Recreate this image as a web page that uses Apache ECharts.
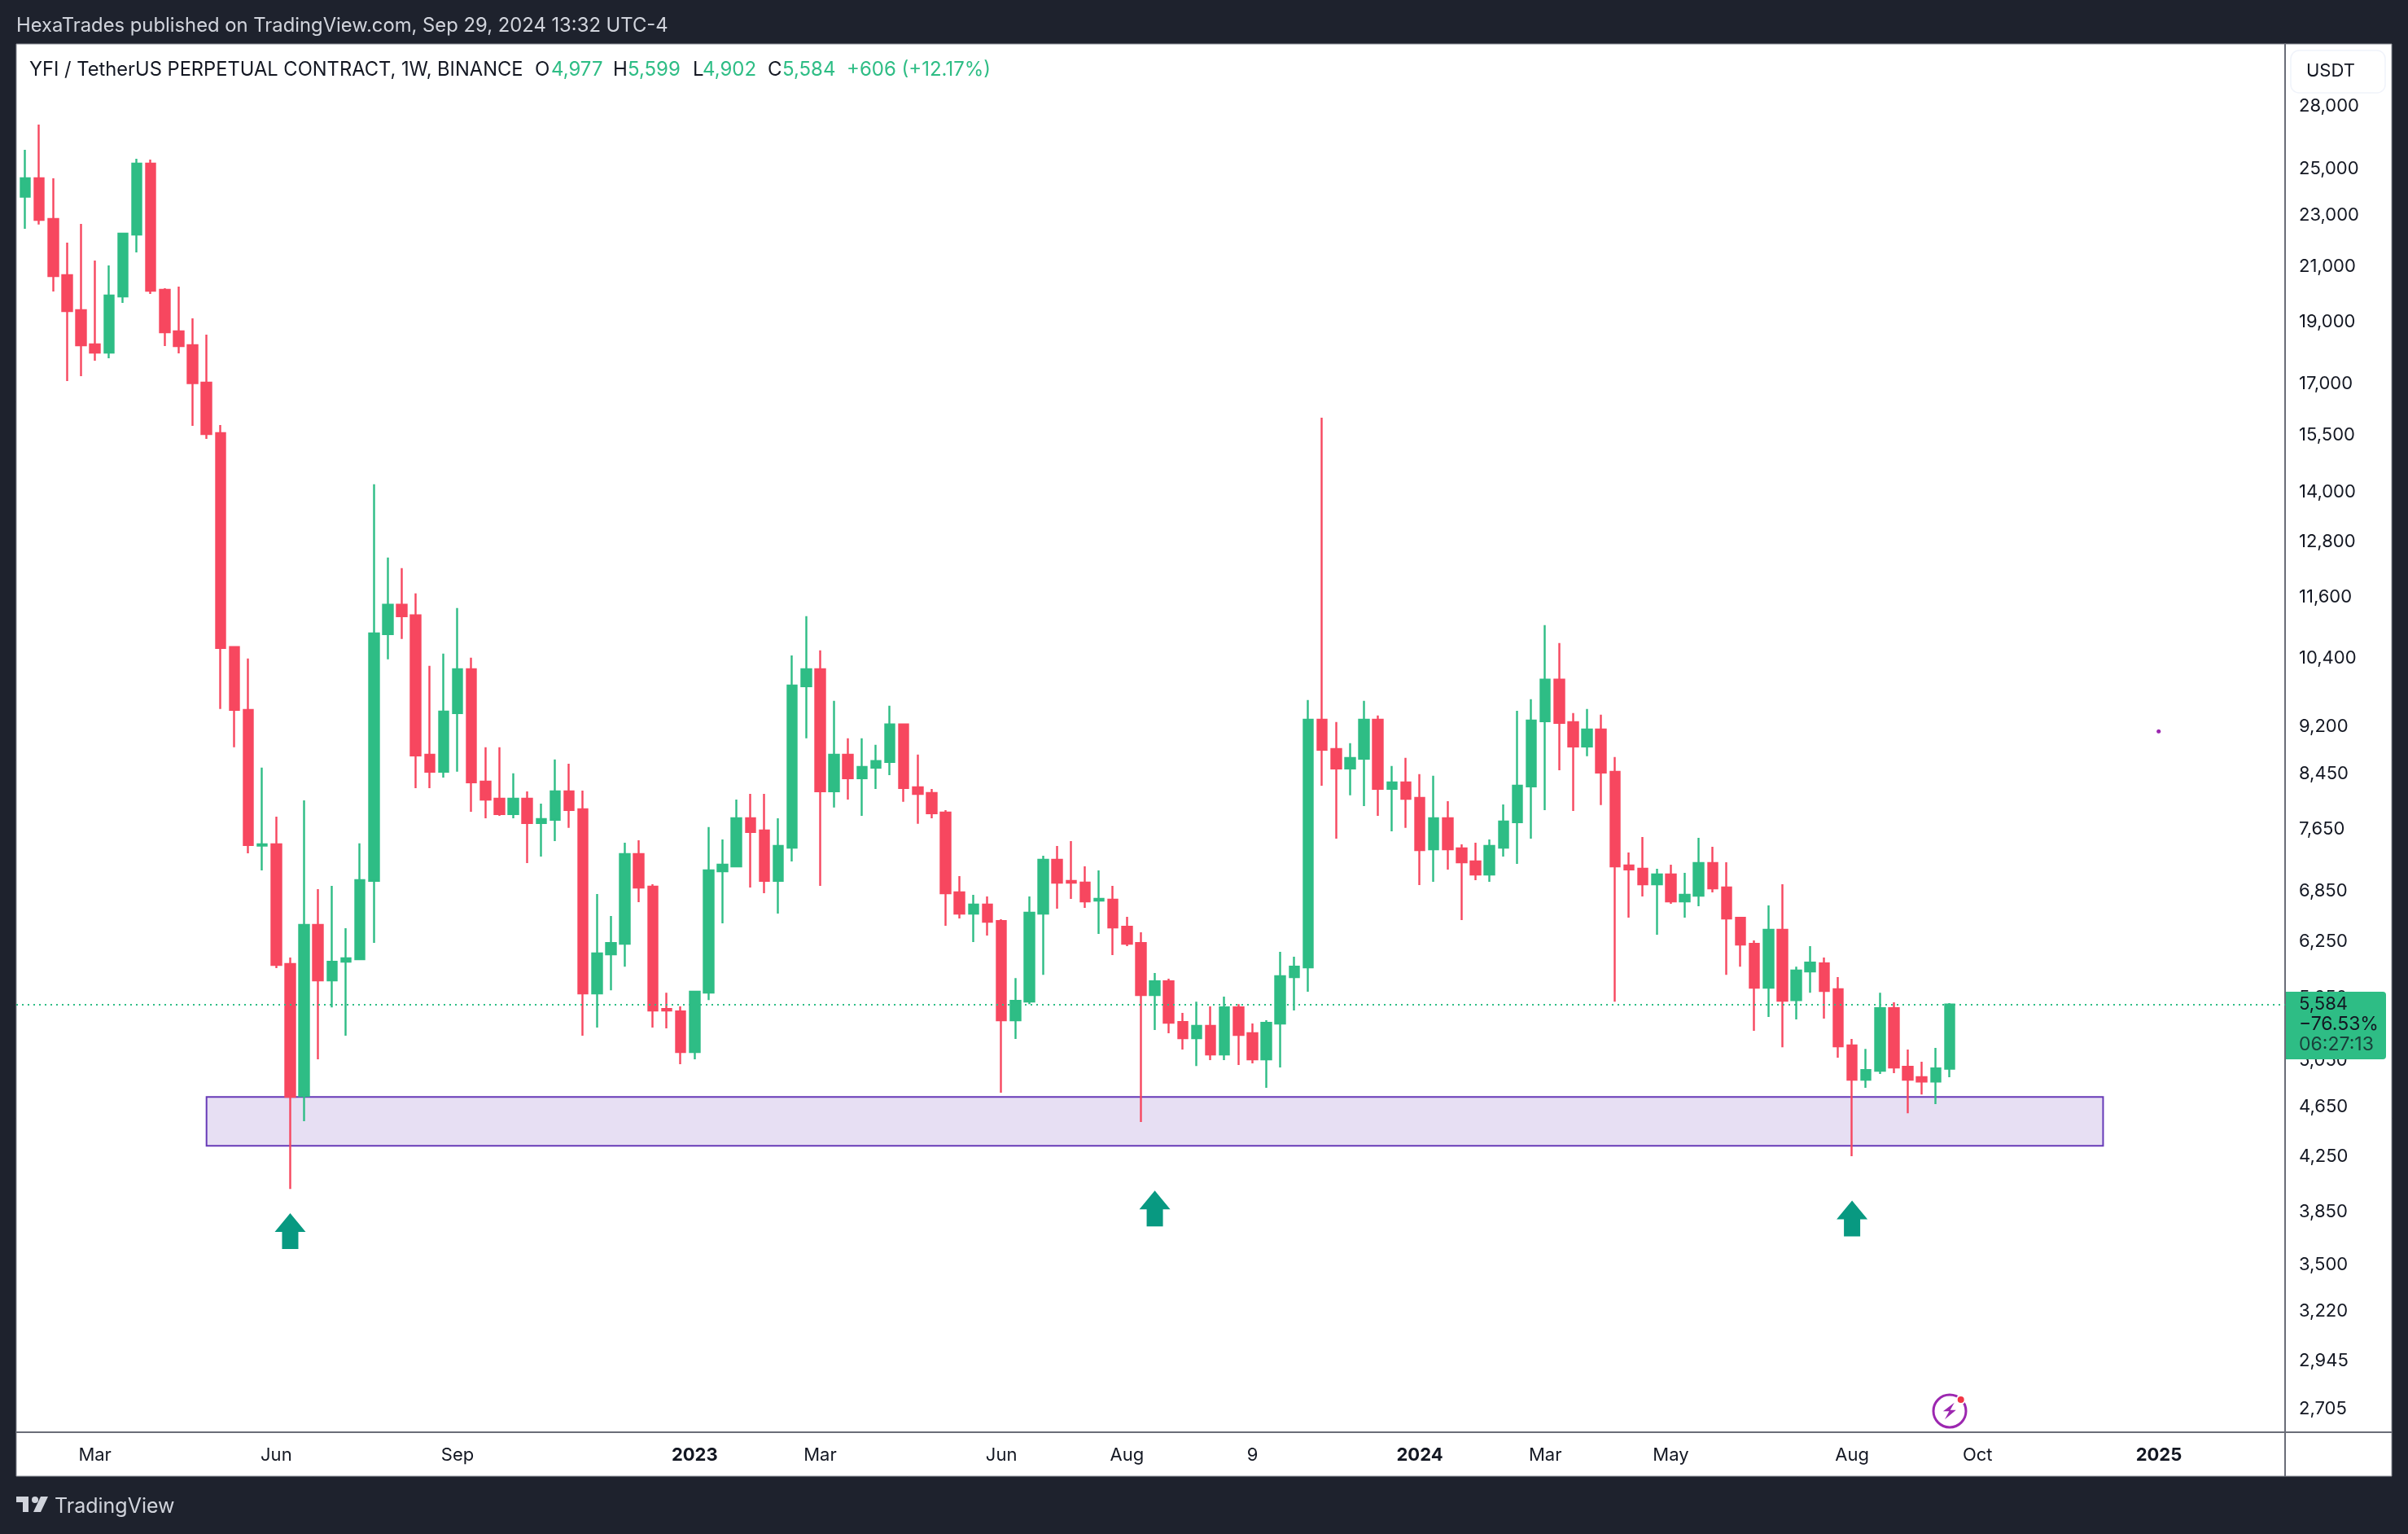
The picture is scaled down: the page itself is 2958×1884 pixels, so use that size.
<!DOCTYPE html>
<html>
<head>
<meta charset="utf-8">
<style>html,body{margin:0;padding:0;background:#1e222d}#c{width:2958px;height:1884px}</style>
<script src="https://cdn.jsdelivr.net/npm/echarts@6/dist/echarts.min.js"></script>
</head>
<body>
<div id="c"></div>
<script>
const firstWeek = '2022-01-31';
const opens = [23787,24586,22854,20662,19404,18249,17985,19891,22228,25240,20125,18680,18222,17038,15563,10603,9474,7428,7445,6005,4740,6442,5832,6031,6058,6971,10853,11440,11225,8743,8479,9419,10192,8331,8079,7858,8079,7733,7778,8186,7928,5697,6111,6228,7315,6899,5541,5517,5128,5705,7094,7156,7800,7632,6971,7401,9885,10192,8186,8743,8380,8541,8628,9229,8246,8162,7881,6829,6575,6681,6488,5429,5614,6575,7240,6971,6950,6730,6740,6422,6237,5680,5823,5413,5258,5374,5106,5557,5304,5062,5398,5866,5969,9310,8833,8528,8680,9310,8222,8319,8091,7379,7800,7390,7219,7052,7401,7744,8258,9283,10001,9269,8872,9148,8479,7167,7125,6929,7052,6720,6789,7198,6889,6526,6228,5756,6385,5630,5926,6013,5739,5189,4880,4959,5549,4995,4902,4865,4977];
const closes = [24586,22820,20632,19376,18222,17985,19920,22260,25240,20095,18654,18196,17026,15540,10587,9474,7434,7445,5996,4733,6442,5832,6031,6067,6981,10869,11440,11208,8730,8479,9447,10192,8319,8067,7858,8079,7733,7789,8186,7916,5697,6120,6237,7315,6889,5525,5525,5128,5714,7104,7177,7800,7610,6971,7423,9899,10192,8186,8743,8380,8553,8642,9229,8234,8150,7870,6819,6575,6681,6479,5429,5622,6584,7240,6950,6950,6720,6750,6413,6228,5680,5823,5405,5258,5374,5106,5557,5288,5062,5405,5875,5978,9310,8820,8528,8692,9310,8222,8319,8079,7368,7800,7379,7209,7052,7423,7755,8270,9296,10001,9256,8872,9148,8466,7156,7115,6929,7052,6720,6799,7198,6879,6517,6219,5756,6385,5622,5935,6022,5722,5181,4880,4966,5549,4988,4880,4865,4980,5584];
const lows = [22456,22633,20067,17088,17239,17724,17801,19661,21525,19979,18196,17959,15770,15404,9488,8859,7326,7104,5961,4012,4530,5062,5557,5281,6049,6237,10373,10758,8234,8234,8392,8479,7892,7800,7835,7800,7198,7283,7488,7666,5281,5358,5730,5978,6711,5358,5351,5017,5062,5630,6460,7156,6889,6819,6575,7219,9002,6909,7951,8067,7835,8222,8429,8033,7722,7800,6432,6517,6246,6320,4767,5250,5589,5891,6633,6750,6642,6339,6102,6201,4523,5335,5304,5151,5002,5054,5054,5010,5025,4809,4988,5525,5714,8270,7521,8127,7974,7835,7621,7666,6919,6960,7115,6498,6981,6960,7283,7188,7521,7916,8503,7904,8718,7986,5614,6526,6779,6330,6691,6526,6662,6829,5891,5978,5327,5461,5173,5437,5705,5445,5076,4254,4809,4930,4937,4596,4753,4671,4902];
const highs = [25876,27074,24586,21906,22655,21213,21027,22293,25463,25425,20184,20243,19122,18572,15792,10603,10388,8541,7824,6076,8056,6869,6909,6404,7456,14200,12451,12217,11676,10252,10479,11373,10403,8859,8859,8454,8186,8009,8667,8603,8198,6809,6546,7466,7499,6929,5705,5566,5722,7677,7510,8067,8150,8150,7800,10448,11208,10541,9628,9002,9002,8898,9544,9229,8743,8222,7916,7032,6799,6779,6507,5857,6779,7293,7423,7488,7156,7104,6909,6536,6357,5909,5849,5501,5614,5566,5664,5589,5398,5429,6138,6085,9642,16000,9269,8924,9628,9378,8566,8692,8442,8417,8044,7445,7466,7510,7997,9460,9656,11029,10680,9419,9488,9392,8705,7336,7543,7125,7177,7073,7532,7412,7209,6526,6265,6671,6929,5978,6201,6076,5866,5250,5158,5705,5606,5151,5039,5166,5599];
const priceTicks = [28000,25000,23000,21000,19000,17000,15500,14000,12800,11600,10400,9200,8450,7650,6850,6250,5650,5050,4650,4250,3850,3500,3220,2945,2705];
const timeTickDates = ['2022-03-07','2022-06-06','2022-09-05','2023-01-02','2023-03-06','2023-06-05','2023-08-07','2023-10-09','2024-01-01','2024-03-04','2024-05-06','2024-08-05','2024-10-07','2025-01-06'];
const timeTickLabels = ['Mar','Jun','Sep','2023','Mar','Jun','Aug','9','2024','Mar','May','Aug','Oct','2025'];
const supportZone = {fromDate:'2022-05-02', toDate:'2024-12-09', top:4732, bottom:4335};
const arrowDates = ['2022-06-13','2023-08-21','2024-08-05'];
const arrowPrices = [3719,3874,3805];
const lastPrice = 5584;
const xMinWeeks = -0.642, xMaxWeeks = 162.05, yMin = 2593, yMax = 31285;

if (![closes,lows,highs].every(a => a.length === opens.length)) throw new Error('len ' + [opens.length,closes.length,lows.length,highs.length]);

const WEEK = 7*864e5, T0 = Date.parse(firstWeek);
const weekOf = d => Math.round((Date.parse(d)-T0)/WEEK);
const GREEN = '#2EBD85', RED = '#F7475F', FONT = 'Inter';
const candles = opens.map((o,i)=>[i,o,closes[i],lows[i],highs[i]]);
const tickWeeks = timeTickDates.map(weekOf);

const T = (x,y,text,size,fill,extra) => ({type:'text',z:100,x,y,style:Object.assign({text,fontFamily:FONT,fontSize:size,fill,verticalAlign:'middle',align:'left'},extra||{})});
const ARROW = 'path://M19 0 L38 23 L29 23 L29 44 L9 44 L9 23 L0 23 Z';

const option = {
  animation:false,
  backgroundColor:'#1e222d',
  grid:{left:20,top:54,width:2787,height:1705,containLabel:false},
  xAxis:{type:'value',min:xMinWeeks,max:xMaxWeeks,
    splitLine:{show:false},axisTick:{show:false},
    axisLine:{show:true,onZero:false,lineStyle:{color:'#6a6d78',width:2}},
    axisLabel:{customValues:tickWeeks,margin:17,fontFamily:FONT,fontSize:22,color:'#131722',
      formatter:v=>{const s=timeTickLabels[tickWeeks.indexOf(v)];return /^\d{4}$/.test(s)?'{b|'+s+'}':s;},
      rich:{b:{fontFamily:FONT,fontSize:22,fontWeight:'bold',color:'#131722'}}}},
  yAxis:{type:'log',position:'right',min:yMin,max:yMax,logBase:10,
    splitLine:{show:false},minorSplitLine:{show:false},axisTick:{show:false},minorTick:{show:false},
    axisLine:{show:true,onZero:false,lineStyle:{color:'#6a6d78',width:2}},
    axisLabel:{customValues:priceTicks,margin:17,fontFamily:FONT,fontSize:22,color:'#131722',align:'left',
      padding:[0,0,4,0],formatter:v=>Math.round(v).toLocaleString('en-US')}},
  series:[{
    type:'candlestick',name:'YFI/USDT',
    barWidth:12,
    encode:{x:0,y:[1,2,3,4]},
    itemStyle:{color:GREEN,color0:RED,borderColor:GREEN,borderColor0:RED,borderWidth:2.4},
    data:candles,
    markArea:{silent:true,z:1,
      itemStyle:{color:'rgba(103,58,183,0.16)',borderColor:'#673ab7',borderWidth:2},
      data:[[{xAxis:weekOf(supportZone.fromDate),yAxis:supportZone.top},{xAxis:weekOf(supportZone.toDate),yAxis:supportZone.bottom}]]},
    markLine:{silent:true,symbol:'none',label:{show:false},
      lineStyle:{color:GREEN,type:[2,5],width:2},
      data:[{yAxis:lastPrice}]},
    markPoint:{silent:true,symbol:ARROW,symbolSize:[38,44],itemStyle:{color:'#089981'},label:{show:false},
      data:arrowDates.map((d,i)=>({coord:[weekOf(d),arrowPrices[i]]}))}
  }],
  graphic:{elements:[
    {type:'rect',z:-10,shape:{x:20,y:54,width:2918,height:1759},style:{fill:'#fff',stroke:'#8a8d96',lineWidth:1}},
    {type:'line',z:5,shape:{x1:2807,y1:1759,x2:2807,y2:1813},style:{stroke:'#6a6d78',lineWidth:2}},
    {type:'line',z:5,shape:{x1:2807,y1:1759,x2:2938,y2:1759},style:{stroke:'#6a6d78',lineWidth:2}},
    T(20,31.5,'HexaTrades published on TradingView.com, Sep 29, 2024 13:32 UTC-4',23.8,'#d1d4dc'),
    T(36,86,'YFI / TetherUS PERPETUAL CONTRACT, 1W, BINANCE',23.7,'#131722'),
    T(657,86,'O',24,'#131722'),T(677,86,'4,977',24,GREEN),
    T(753,86,'H',24,'#131722'),T(771,86,'5,599',24,GREEN),
    T(851,86,'L',24,'#131722'),T(863,86,'4,902',24,GREEN),
    T(943,86,'C',24,'#131722'),T(961,86,'5,584',24,GREEN),
    T(1040,86,'+606 (+12.17%)',24,GREEN),
    {type:'rect',z:90,shape:{x:2814,y:62,width:116,height:52,r:10},style:{fill:'#fff',stroke:'#f0f3fa',lineWidth:1.5}},
    T(2833,87,'USDT',22,'#131722'),
    {type:'rect',z:90,shape:{x:2808,y:1218,width:123,height:83,r:[0,4,4,0]},style:{fill:GREEN}},
    T(2824,1233,'5,584',22,'#131722'),
    T(2824,1258.5,'\u221276.53%',23,'#131722'),
    T(2824,1283.5,'06:27:13',23,'rgba(19,23,34,0.75)'),
    {type:'circle',z:50,shape:{cx:2651.7,cy:898.3,r:2.5},style:{fill:'#9c27b0'}},
    {type:'circle',z:50,shape:{cx:2395,cy:1733,r:20},style:{fill:'none',stroke:'#9c27b0',lineWidth:3}},
    {type:'polygon',z:50,shape:{points:[[2400.7,1722.7],[2386.9,1733.3],[2394.4,1733.3],[2389,1743.3],[2402.8,1731.7],[2395.7,1731.7]]},style:{fill:'#9c27b0'}},
    {type:'circle',z:51,shape:{cx:2408.7,cy:1719,r:5},style:{fill:'#f23645',stroke:'#fff',lineWidth:2}},
    {type:'polygon',z:100,shape:{points:[[20,1838],[35,1838],[35,1857],[28,1857],[28,1845],[20,1845]]},style:{fill:'#d1d4dc'}},
    {type:'circle',z:100,shape:{cx:43,cy:1842,r:4},style:{fill:'#d1d4dc'}},
    {type:'polygon',z:100,shape:{points:[[50,1838],[59,1838],[50,1857],[41,1857]]},style:{fill:'#d1d4dc'}},
    T(67,1850,'TradingView',25,'#d1d4dc')
  ]}
};
const chart = echarts.init(document.getElementById('c'),null,{renderer:'canvas',width:2958,height:1884});
chart.setOption(option);
</script>
</body>
</html>
